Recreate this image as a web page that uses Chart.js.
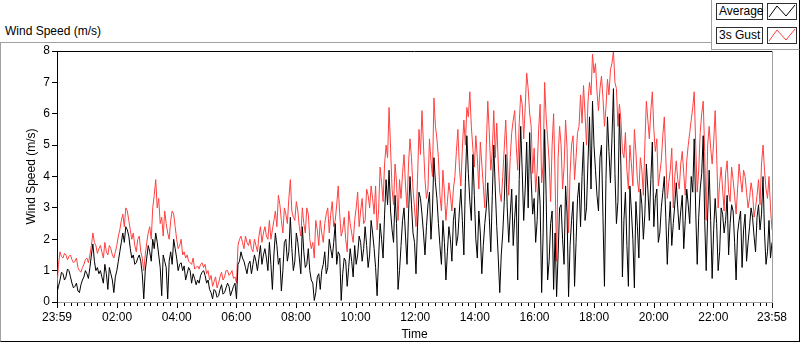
<!DOCTYPE html>
<html lang="en">
<head>
  <meta charset="UTF-8" />
  <title>Wind Speed</title>
  <script src="https://cdn.jsdelivr.net/npm/chart.js"></script>
  <style>
    body { margin: 0; background: #fff; font-family: "Liberation Sans", Arial, sans-serif; color: #000; }
    .panel { position: relative; width: 800px; height: 342px; overflow: hidden; }
    .frame {
      position: absolute; left: 0; top: 42px; width: 800px; height: 300px; box-sizing: border-box;
      border-left: 1px solid #a0a0a0; border-top: 1px solid #a0a0a0;
      border-right: 1px solid #000; border-bottom: 1px solid #000;
    }
    .label { position: absolute; left: 5px; top: 24px; font-size: 12px; line-height: 14px; }
    canvas { position: absolute; left: 0; top: 0; }
    .legend {
      position: absolute; left: 711px; top: 0; width: 89px; height: 50px; box-sizing: border-box;
      background: #fff; border-left: 1px solid #a0a0a0; border-bottom: 1px solid #a0a0a0; border-right: 1px solid #000;
    }
    .legend .name {
      position: absolute; left: 4px; width: 47px; height: 17px; box-sizing: border-box;
      border: 1px solid #303030; font-size: 12px; line-height: 15px; padding-left: 2px; background: #fff;
    }
    .legend .swatch {
      position: absolute; left: 55px; width: 30px; height: 17px; box-sizing: border-box;
      border: 1px solid #303030; background: #fff;
    }
    .legend svg { display: block; }
  </style>
</head>
<body>
  <div class="panel">
    <div class="frame"></div>
    <div class="label">Wind Speed (m/s)</div>
    <canvas id="windChart" width="800" height="342"></canvas>
    <div class="legend" id="legend"></div>
  </div>

  <script>
    // x axis runs in minutes from midnight: 23:59 the day before to 23:58
    const xTickMinutes = [-1, 120, 240, 360, 480, 600, 720, 840, 960, 1080, 1200, 1320, 1438];
    const xTickLabels = ["23:59", "02:00", "04:00", "06:00", "08:00", "10:00", "12:00", "14:00", "16:00", "18:00", "20:00", "22:00", "23:58"];
    const yTicks = [0, 1, 2, 3, 4, 5, 6, 7, 8];

    // samples, evenly spaced over the day (about 3 min apart)
    const average = [
      0.3,0.5,0.7,0.95,0.9,0.7,0.8,1.05,1.0,0.8,
      0.6,0.45,0.5,0.6,0.35,0.3,0.55,0.7,0.8,1.0,
      0.9,0.75,1.1,1.5,1.85,1.3,1.0,1.1,0.9,1.0,
      0.8,0.6,1.2,0.9,0.4,1.1,0.9,0.7,0.3,0.8,
      1.0,1.3,1.6,1.9,2.2,1.9,2.4,2.3,2.1,1.7,
      1.4,1.5,1.2,1.25,1.4,1.5,1.3,0.9,0.1,1.0,
      1.4,1.8,1.6,1.3,2.0,1.7,2.2,1.9,1.5,1.1,
      0.2,1.5,1.3,1.1,0.1,1.3,1.6,1.2,2.0,1.7,
      1.4,1.0,1.2,1.25,1.0,1.15,0.7,0.9,1.1,1.0,
      0.6,0.9,0.75,0.55,0.7,0.6,0.85,0.95,1.0,0.85,
      0.6,0.7,0.4,0.3,0.1,0.4,0.35,0.15,0.2,0.4,
      0.55,0.25,0.3,0.45,0.6,0.5,0.2,0.35,0.5,0.6,
      0.1,1.2,1.3,1.6,1.4,1.3,1.1,0.9,1.2,1.3,
      0.9,1.2,1.5,1.3,1.0,1.4,1.8,1.2,1.5,1.7,
      1.4,1.0,1.9,1.2,
      0.4,1.5,2.2,1.8,1.2,1.4,0.35,1.0,1.9,2.0,
      1.3,1.6,2.7,1.7,1.0,1.3,2.2,1.9,1.4,0.9,
      2.4,1.6,1.1,1.2,1.7,1.0,0.7,0.6,0.05,0.3,
      0.8,0.9,0.4,1.0,1.2,1.6,0.9,1.1,2.0,1.7,
      1.4,1.9,2.5,1.2,1.6,1.5,0.05,0.9,1.4,1.3,
      0.5,1.1,1.7,1.3,0.8,1.8,1.2,1.5,2.1,1.9,
      1.3,1.7,2.4,1.8,1.1,1.5,2.6,2.2,1.7,1.1,
      0.2,1.4,2.5,2.0,1.4,2.8,3.9,3.1,4.2,2.9,
      2.3,1.9,3.4,2.5,0.4,1.0,1.8,2.6,3.0,2.1,
      1.2,2.8,4.0,3.1,2.2,1.9,0.9,2.4,3.5,3.3,
      2.8,2.2,1.5,2.4,3.1,3.5,2.0,2.9,4.6,3.8,
      3.3,2.5,1.8,1.2,2.6,1.9,0.7,1.6,2.4,2.0,
      1.3,2.6,3.0,1.8,2.1,2.9,3.6,2.6,1.5,3.8,
      5.3,4.1,3.2,2.6,4.7,3.4,2.0,1.4,2.9,2.2,
      0.9,1.8,2.5,3.0,3.8,2.7,1.6,3.4,5.0,3.6,
      2.4,1.4,0.3,1.5,2.2,3.2,4.7,3.0,1.9,2.8,
      3.6,1.8,2.7,3.4,0.7,3.9,5.6,4.2,2.6,3.6,
      5.1,3.0,5.4,3.9,
      2.8,3.3,1.9,2.6,4.0,3.1,0.3,2.2,5.5,3.4,
      0.7,1.3,2.5,2.9,0.4,2.2,0.17,1.5,3.0,3.1,
      2.0,1.2,3.7,2.8,0.17,1.8,2.6,3.2,0.5,1.9,
      3.3,3.8,2.4,4.0,5.1,2.6,3.0,4.5,5.9,3.6,
      6.4,5.0,4.2,3.4,2.9,4.6,5.0,2.7,0.5,3.9,
      5.9,4.8,3.8,5.2,6.8,4.1,2.5,3.2,6.0,4.3,
      0.8,2.6,3.5,1.8,0.5,3.7,2.9,2.0,0.45,3.2,
      2.4,1.4,3.6,3.1,2.0,2.8,4.4,3.6,2.6,3.9,
      5.1,2.4,3.3,3.6,1.9,2.2,3.0,3.5,4.0,2.7,
      1.2,2.4,3.2,1.8,2.5,3.1,3.8,3.0,2.3,2.9,
      3.4,1.7,2.6,3.6,3.1,2.5,4.0,3.5,5.2,2.9,
      1.2,2.7,3.6,4.1,5.3,2.6,1.0,2.8,4.2,2.6,
      0.75,2.3,3.3,2.5,1.0,1.6,3.0,2.8,2.2,2.6,
      3.4,1.5,2.5,3.1,2.9,1.9,0.7,2.2,2.6,2.9,
      1.1,2.3,2.8,1.3,1.9,2.4,3.0,2.7,2.1,1.6,
      2.7,3.1,2.3,2.8,4.0,2.2,1.2,1.6,2.6,1.4,
      1.9
    ];

    const gust = [
      0.5,1.2,1.6,1.45,1.4,1.55,1.5,1.35,1.45,1.5,
      1.35,1.25,1.3,1.4,1.1,1.0,0.95,1.1,1.2,1.35,
      1.4,1.25,1.5,1.8,2.2,1.9,1.8,1.55,1.7,1.8,
      1.6,1.4,1.9,1.6,1.5,1.8,1.7,1.5,1.4,1.6,
      1.8,2.1,2.3,2.6,2.8,2.4,3.0,2.9,2.6,2.3,
      2.0,2.2,1.8,1.6,2.0,2.1,1.6,1.4,1.0,1.5,
      1.9,2.2,2.4,2.0,3.0,3.4,3.9,3.0,3.3,2.5,
      2.7,2.1,2.9,2.5,2.2,2.0,2.6,2.9,2.8,2.4,
      2.0,1.7,1.8,2.0,1.5,1.6,1.4,1.5,1.3,1.25,
      1.2,1.4,1.05,1.1,1.15,1.05,1.2,1.25,1.1,1.2,
      0.9,1.0,0.7,0.85,0.5,0.65,0.8,0.45,0.6,0.8,
      0.95,0.7,0.8,1.0,1.0,0.85,0.9,1.0,0.75,0.8,
      0.6,1.8,2.0,2.1,1.9,1.7,2.1,1.9,1.8,2.0,
      1.7,1.6,2.0,1.8,1.6,2.1,2.4,1.9,2.2,2.4,
      2.1,2.0,2.6,2.0,
      2.3,2.6,2.9,2.4,3.4,3.1,2.6,2.2,3.0,2.8,
      2.5,3.3,3.9,2.9,2.7,2.6,3.2,2.9,2.4,2.1,
      3.0,2.5,2.2,3.0,2.8,2.0,1.7,1.9,1.4,2.6,
      2.3,1.8,2.6,2.2,1.9,2.5,2.8,3.0,2.2,2.8,
      3.2,2.4,2.6,3.1,3.7,2.8,2.1,2.3,2.7,2.0,
      1.6,2.9,2.5,2.2,1.9,2.6,3.0,3.5,2.4,2.9,
      3.3,2.5,2.6,3.6,3.4,3.0,3.7,3.3,2.8,3.7,
      2.3,2.9,4.3,3.8,3.2,4.4,5.0,4.6,6.2,4.9,
      3.6,3.1,4.4,3.8,2.6,3.9,3.3,4.1,4.7,3.7,
      3.0,4.4,5.2,4.6,3.6,3.0,2.4,3.9,5.5,4.7,
      6.1,5.0,3.9,3.3,3.6,5.2,4.5,4.0,6.5,5.6,
      5.2,4.6,3.4,2.9,4.2,3.5,2.6,3.2,3.8,3.4,
      2.9,3.6,4.0,4.8,5.5,4.3,3.7,4.9,5.8,5.0,
      6.2,5.9,6.7,5.6,4.9,4.3,5.3,4.6,3.6,5.1,
      4.4,3.7,3.0,5.0,6.4,5.4,4.2,4.8,6.1,4.6,
      5.7,4.4,3.5,3.2,4.0,4.9,5.8,4.6,3.4,4.6,
      5.4,5.8,6.1,5.0,4.2,5.7,6.6,6.3,5.2,6.2,
      7.3,6.8,6.0,5.6,
      4.1,4.9,3.5,4.2,5.5,6.3,3.8,4.4,7.0,5.9,
      5.2,4.5,3.2,5.0,6.0,3.9,1.3,4.6,5.6,5.0,
      3.6,4.3,5.8,4.9,2.2,4.1,5.0,5.3,3.9,4.6,
      5.4,5.6,6.6,5.7,6.9,6.0,5.0,6.4,7.0,6.6,
      7.9,7.3,7.6,6.7,6.1,6.8,7.2,6.5,5.6,6.2,
      7.1,6.6,7.4,7.6,8.0,7.0,6.8,5.6,6.3,5.8,
      4.8,4.6,5.4,4.2,3.6,5.0,4.4,3.7,5.5,4.8,
      3.9,3.5,4.6,4.2,3.4,5.0,6.4,5.8,5.2,6.1,
      6.7,5.5,4.8,5.2,3.7,4.1,4.5,5.3,5.9,4.6,
      3.3,3.8,4.2,4.9,3.0,4.0,4.5,3.9,3.6,4.4,
      4.8,4.1,3.4,4.5,5.0,5.4,5.8,6.2,6.7,5.0,
      3.5,4.2,5.4,6.0,6.4,4.8,2.6,5.0,5.6,4.9,
      4.4,5.1,6.1,4.7,3.0,3.8,4.3,3.6,2.9,4.1,
      4.5,3.5,3.2,4.3,3.9,3.4,2.8,3.6,4.4,3.9,
      3.5,4.2,4.0,3.5,3.0,3.3,3.8,3.5,2.7,3.0,
      3.4,3.9,3.1,4.4,5.0,4.2,3.6,3.3,4.0,3.0,
      2.3
    ];

    const startMin = xTickMinutes[0];
    const endMin = xTickMinutes[xTickMinutes.length - 1];
    const sampleStep = (endMin - startMin) / (average.length - 1);
    const toPoints = arr => arr.map((v, i) => ({ x: startMin + i * sampleStep, y: v }));

    const minorStep = 120 / 9;
    const font = { family: '"Liberation Sans", Arial, sans-serif', size: 12 };

    // top/right edges of the plot plus the LabVIEW-style long/short x ticks
    const plotFrame = {
      id: "plotFrame",
      afterDraw(chart) {
        const { ctx, chartArea: a, scales: { x } } = chart;
        ctx.save();
        ctx.lineWidth = 1;
        ctx.strokeStyle = "#000";
        ctx.beginPath();
        ctx.moveTo(a.left, Math.round(a.top) + 0.5);
        ctx.lineTo(a.right, Math.round(a.top) + 0.5);
        ctx.stroke();
        ctx.strokeStyle = "#a0a0a0";
        ctx.beginPath();
        ctx.moveTo(Math.round(a.right) + 0.5, a.top);
        ctx.lineTo(Math.round(a.right) + 0.5, a.bottom);
        ctx.stroke();
        ctx.strokeStyle = "#000";
        const base = Math.round(a.bottom) + 1;
        x.ticks.forEach(t => {
          const px = Math.round(x.getPixelForValue(t.value)) + 0.5;
          ctx.beginPath();
          ctx.moveTo(px, base);
          ctx.lineTo(px, base + (t.isMajor ? 5 : 3));
          ctx.stroke();
        });
        ctx.restore();
      }
    };

    const chart = new Chart(document.getElementById("windChart"), {
      type: "line",
      data: {
        datasets: [
          { label: "Average", data: toPoints(average), borderColor: "#000000", borderWidth: 1, pointRadius: 0, tension: 0 },
          { label: "3s Gust", data: toPoints(gust), borderColor: "#ff4040", borderWidth: 1, pointRadius: 0, tension: 0 }
        ]
      },
      options: {
        responsive: false,
        animation: false,
        layout: { padding: { left: 0, top: 51, right: 28, bottom: 0 } },
        plugins: { legend: { display: false }, tooltip: { enabled: false } },
        scales: {
          x: {
            type: "linear",
            min: startMin,
            max: endMin,
            grid: { display: false, drawTicks: false },
            border: { color: "#a0a0a0" },
            afterBuildTicks(scale) {
              const ticks = xTickMinutes.map(v => ({ value: v, isMajor: true }));
              for (let k = 1; k * minorStep < endMin - 3; k++) {
                if (k % 9 !== 0) ticks.push({ value: k * minorStep, isMajor: false });
              }
              ticks.sort((a, b) => a.value - b.value);
              scale.ticks = ticks;
            },
            ticks: {
              autoSkip: false,
              maxRotation: 0,
              padding: 8,
              color: "#000",
              font: font,
              callback: value => {
                const idx = xTickMinutes.indexOf(value);
                return idx >= 0 ? xTickLabels[idx] : "";
              }
            },
            title: { display: true, text: "Time", color: "#000", font: font, padding: { top: 0, bottom: 0 } },
            afterFit(scale) { scale.height = 40; }
          },
          y: {
            min: 0,
            max: 8,
            afterBuildTicks(scale) { scale.ticks = yTicks.map(v => ({ value: v })); },
            grid: { drawOnChartArea: false, tickLength: 5, color: "#000" },
            border: { color: "#000" },
            ticks: { padding: 2, color: "#000", font: font },
            title: { display: true, text: "Wind Speed (m/s)", color: "#000", font: font, padding: { top: 24, bottom: 0 } },
            afterFit(scale) { scale.width = 57; }
          }
        }
      },
      plugins: [plotFrame]
    });

    // LabVIEW style legend: name box plus a little zigzag swatch
    const legend = document.getElementById("legend");
    chart.data.datasets.forEach((ds, i) => {
      const top = 3 + i * 24;
      legend.innerHTML +=
        '<div class="name" style="top:' + top + 'px">' + ds.label + '</div>' +
        '<div class="swatch" style="top:' + top + 'px">' +
        '<svg width="28" height="15"><polyline points="1,13 9,2 18,12 27,1" fill="none" stroke="' +
        ds.borderColor + '" stroke-width="1"/></svg></div>';
    });
  </script>
</body>
</html>
